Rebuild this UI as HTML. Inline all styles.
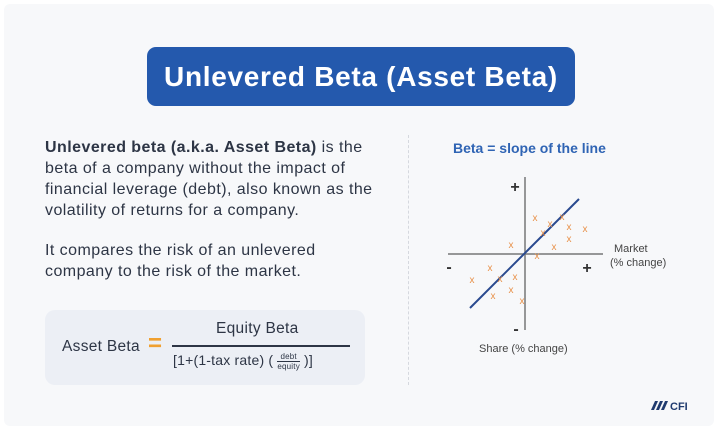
<!DOCTYPE html>
<html><head><style>
body{margin:0;width:720px;height:431px;background:#fff;font-family:"Liberation Sans",sans-serif;position:relative;overflow:hidden}
.card{position:absolute;left:4px;top:4px;width:710px;height:422px;background:#f7f8fa;border-radius:6px}
.title{position:absolute;left:147px;top:47px;width:428px;height:59px;background:#2459ad;border-radius:9px;color:#fff;font-weight:bold;font-size:28px;letter-spacing:0.7px;text-align:center;line-height:59px}
.p{position:absolute;left:45px;font-size:16px;letter-spacing:0.45px;line-height:21px;color:#2d3545;white-space:nowrap}
.box{position:absolute;left:45px;top:310px;width:320px;height:75px;background:#eceff5;border-radius:10px}
.div{position:absolute;left:408px;top:135px;height:250px;border-left:1px dashed #d5d8de}
</style></head><body>
<div class="card"></div>
<div class="title">Unlevered Beta (Asset Beta)</div>
<div class="p" style="top:137px"><b>Unlevered beta (a.k.a. Asset Beta)</b> is the<br>beta of a company without the impact of<br>financial leverage (debt), also known as the<br>volatility of returns for a company.</div>
<div class="p" style="top:240px">It compares the risk of an unlevered<br>company to the risk of the market.</div>
<div class="box"></div>
<div style="position:absolute;left:62px;top:338px;font-size:15.5px;letter-spacing:0.3px;color:#2d3545">Asset Beta</div>
<div style="position:absolute;left:148px;top:330px;font-size:24px;color:#f0a030;font-weight:bold">=</div>
<div style="position:absolute;left:216px;top:320px;font-size:15.5px;letter-spacing:0.3px;color:#2d3545">Equity Beta</div>
<div style="position:absolute;left:172px;top:345px;width:178px;border-top:2px solid #2d3545"></div>
<div style="position:absolute;left:173px;top:352px;font-size:14px;letter-spacing:0.2px;color:#2d3545;white-space:nowrap">[1+(1-tax rate) ( <span style="display:inline-block;vertical-align:middle;text-align:center;font-size:8px;line-height:9px"><span style="display:block;border-bottom:1px solid #2d3545;padding:0 3px">debt</span>equity</span> )]</div>
<div class="div"></div>
<svg style="position:absolute;left:0;top:0" width="720" height="431">
<text x="453" y="153" font-size="14" font-weight="bold" fill="#2f64b4" font-family="Liberation Sans">Beta = slope of the line</text>
<line x1="525" y1="177" x2="525" y2="330" stroke="#777" stroke-width="1.5"/>
<line x1="448" y1="254" x2="603" y2="254" stroke="#777" stroke-width="1.5"/>
<line x1="470" y1="308" x2="579" y2="199" stroke="#2a4a8f" stroke-width="2"/>
<g font-size="16" font-weight="bold" fill="#333" text-anchor="middle" font-family="Liberation Sans">
<text x="515" y="192">+</text><text x="587" y="273">+</text><text x="449" y="272">-</text><text x="516" y="334">-</text></g>
<g font-size="10" fill="#e8914a" text-anchor="middle" font-family="Liberation Sans">
<text x="535" y="221">x</text><text x="550" y="227">x</text><text x="562" y="220">x</text><text x="569" y="230">x</text><text x="585" y="232">x</text><text x="543" y="236">x</text><text x="569" y="242">x</text><text x="511" y="248">x</text><text x="554" y="250">x</text><text x="537" y="259">x</text><text x="490" y="271">x</text><text x="472" y="283">x</text><text x="500" y="282">x</text><text x="515" y="280">x</text><text x="511" y="293">x</text><text x="493" y="299">x</text><text x="522" y="304">x</text></g>
<g font-size="11" fill="#444" font-family="Liberation Sans">
<text x="614" y="252">Market</text><text x="610" y="266">(% change)</text>
<text x="479" y="352">Share (% change)</text></g>
<g fill="#1f3a6e"><polygon points="651,410 655,401 658,401 654,410"/><polygon points="656,410 660,401 663,401 659,410"/><polygon points="661,410 665,401 668,401 664,410"/></g>
<text x="670" y="410" font-size="11" font-weight="bold" fill="#1f3a6e" font-family="Liberation Sans">CFI</text>
</svg>
</body></html>
